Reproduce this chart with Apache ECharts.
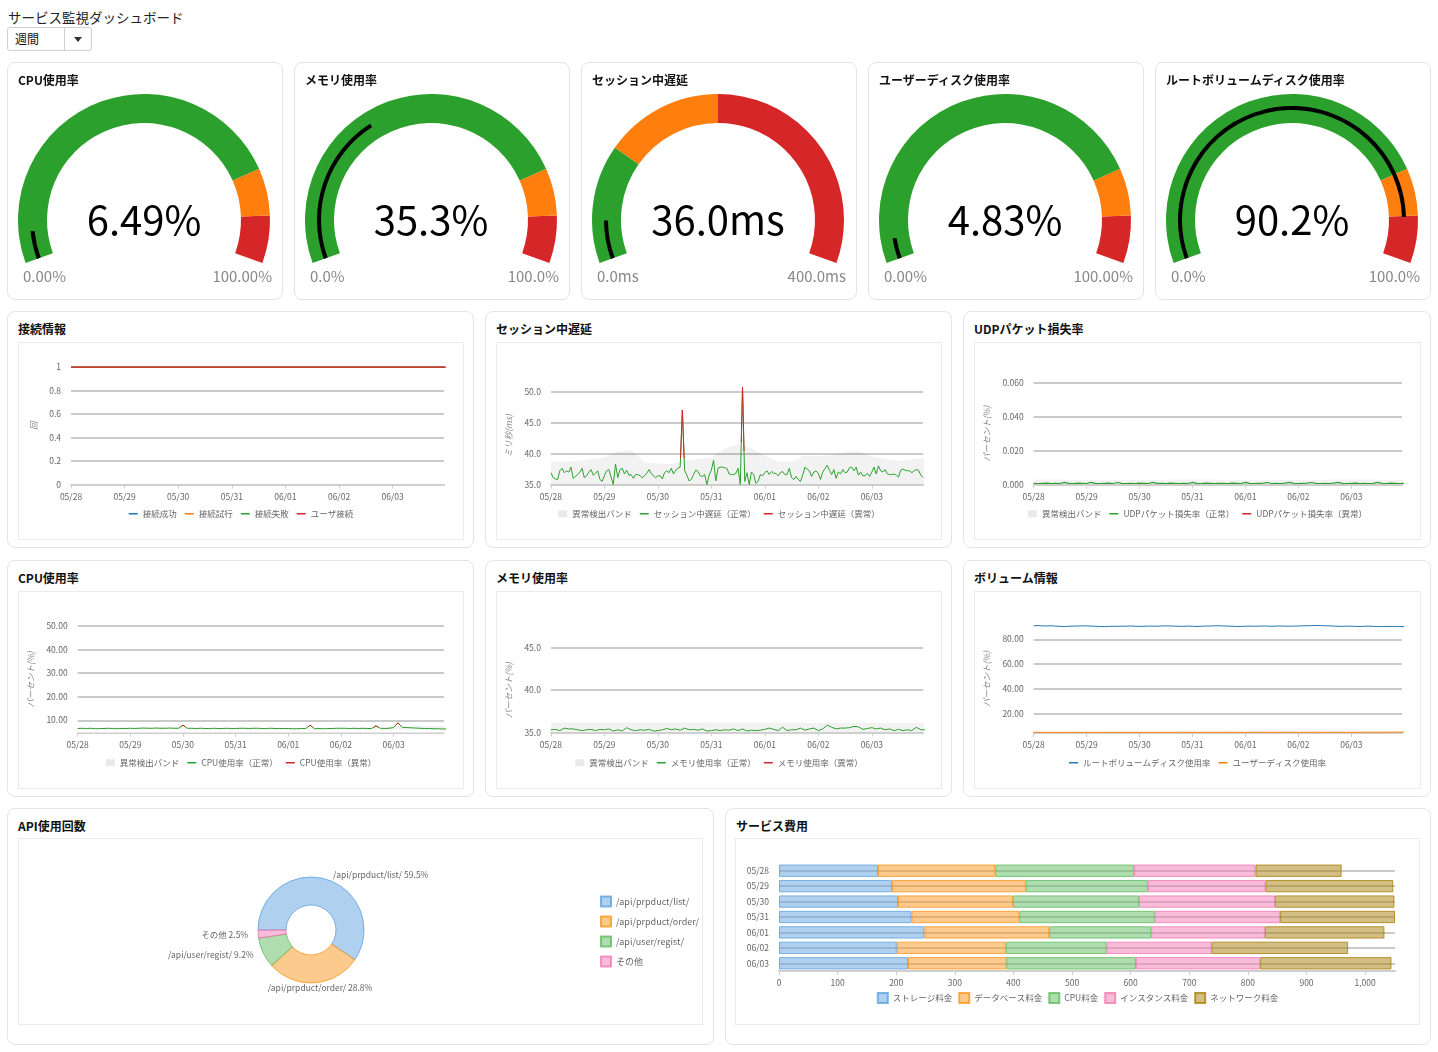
<!DOCTYPE html>
<html lang="ja">
<head>
<meta charset="utf-8">
<title>サービス監視ダッシュボード</title>
<script src="https://cdn.jsdelivr.net/npm/echarts@6.0.0/dist/echarts.min.js"></script>
<style>
  html, body { margin: 0; padding: 0; background: #fff; }
  body { font-family: "Noto Sans CJK JP", "Noto Sans", sans-serif; color: #111; }
  #page { position: relative; width: 1438px; height: 1052px; overflow: hidden; }
  .heading { position: absolute; left: 8px; top: 7px; font-size: 13.5px; line-height: 20px; color: #222; }
  .select { position: absolute; left: 7px; top: 27px; width: 85px; height: 24px; box-sizing: border-box;
            border: 1px solid #cfcfcf; border-radius: 3px; font-size: 12px; line-height: 22px; }
  .select .text { position: absolute; left: 7px; top: 0; }
  .select .sep { position: absolute; left: 56px; top: 0; bottom: 0; border-left: 1px solid #cfcfcf; }
  .select .arrow { position: absolute; left: 66px; top: 9px; width: 0; height: 0;
                   border-left: 4.5px solid transparent; border-right: 4.5px solid transparent; border-top: 5px solid #333; }
  .card { position: absolute; box-sizing: border-box; border: 1px solid #e4e4e4; border-radius: 8px; background: #fff; }
  .card .title { position: absolute; left: 10px; top: 8px; font-size: 12px; font-weight: 700; line-height: 18px; z-index: 2; }
  .fill { position: absolute; left: 0; top: 0; right: 0; bottom: 0; }
  .box { position: absolute; box-sizing: border-box; border: 1px solid #ebebeb; }
</style>
</head>
<body>
<div id="page">
  <div class="heading">サービス監視ダッシュボード</div>
  <div class="select"><span class="text">週間</span><span class="sep"></span><span class="arrow"></span></div>

  <!-- ゲージ -->
  <div class="card" style="left:7px;top:62px;width:276px;height:238px"><div class="fill" id="g0"></div><div class="title">CPU使用率</div></div>
  <div class="card" style="left:294px;top:62px;width:276px;height:238px"><div class="fill" id="g1"></div><div class="title">メモリ使用率</div></div>
  <div class="card" style="left:581px;top:62px;width:276px;height:238px"><div class="fill" id="g2"></div><div class="title">セッション中遅延</div></div>
  <div class="card" style="left:868px;top:62px;width:276px;height:238px"><div class="fill" id="g3"></div><div class="title">ユーザーディスク使用率</div></div>
  <div class="card" style="left:1155px;top:62px;width:276px;height:238px"><div class="fill" id="g4"></div><div class="title">ルートボリュームディスク使用率</div></div>

  <!-- 時系列 -->
  <div class="card" style="left:7px;top:311px;width:467px;height:237px"><div class="title">接続情報</div>
    <div class="box" id="c-conn" style="left:10px;top:30px;width:446px;height:198px"></div></div>
  <div class="card" style="left:485px;top:311px;width:467px;height:237px"><div class="title">セッション中遅延</div>
    <div class="box" id="c-session" style="left:10px;top:30px;width:446px;height:198px"></div></div>
  <div class="card" style="left:963px;top:311px;width:468px;height:237px"><div class="title">UDPパケット損失率</div>
    <div class="box" id="c-udp" style="left:10px;top:30px;width:447px;height:198px"></div></div>

  <div class="card" style="left:7px;top:560px;width:467px;height:237px"><div class="title">CPU使用率</div>
    <div class="box" id="c-cpu" style="left:10px;top:30px;width:446px;height:198px"></div></div>
  <div class="card" style="left:485px;top:560px;width:467px;height:237px"><div class="title">メモリ使用率</div>
    <div class="box" id="c-mem" style="left:10px;top:30px;width:446px;height:198px"></div></div>
  <div class="card" style="left:963px;top:560px;width:468px;height:237px"><div class="title">ボリューム情報</div>
    <div class="box" id="c-vol" style="left:10px;top:30px;width:447px;height:198px"></div></div>

  <div class="card" style="left:7px;top:808px;width:707px;height:237px"><div class="title">API使用回数</div>
    <div class="box" id="c-api" style="left:10px;top:29px;width:685px;height:187px"></div></div>
  <div class="card" style="left:725px;top:808px;width:706px;height:237px"><div class="title">サービス費用</div>
    <div class="box" id="c-cost" style="left:9px;top:29px;width:685px;height:187px"></div></div>
</div>

<script>
const FONT = '"Noto Sans CJK JP", "Noto Sans", sans-serif';
const GREEN = '#2ca02c', ORANGE = '#ff7f0e', RED = '#d62728', BLUE = '#1f77b4';
const GRID = '#b8b8b8';
const BAND = 'rgba(0,0,0,0.075)';
const LINE_ICON = 'path://M0,0H12V2H0Z';

// ---- ゲージの値 ----
const gaugeValues = [6.49, 35.3, 36.0, 4.83, 90.2];
const gaugeMax = [100, 100, 400, 100, 100];
const gaugeDigits = [2, 1, 1, 2, 1];
const gaugeUnits = ['%', '%', 'ms', '%', '%'];
const gaugeSteps = [[0.8, 0.9], [0.8, 0.9], [0.25, 0.5], [0.8, 0.9], [0.8, 0.9]];

// ---- 時系列 ----
const days = ['05/28', '05/29', '05/30', '05/31', '06/01', '06/02', '06/03'];
const LAST_HOUR = 167;

const connSuccess = [1, 1, 1, 1, 1, 1, 1, 1];
const connTry = [1, 1, 1, 1, 1, 1, 1, 1];
const connFail = [1, 1, 1, 1, 1, 1, 1, 1];
const connUser = [1, 1, 1, 1, 1, 1, 1, 1];

// 1時間ごと
const sessionValues = [
  36.9, 36.1, 35.9, 35.8, 37.2, 37.6, 36.9, 37.2, 37.0, 37.8,
  36.0, 36.3, 36.6, 37.0, 37.6, 36.1, 36.4, 37.0, 37.4, 36.5,
  36.8, 37.2, 35.8, 35.5, 36.4, 37.2, 37.4, 36.2, 35.0, 38.3,
  36.1, 37.4, 37.6, 36.7, 37.3, 36.5, 36.6, 36.0, 36.6, 36.6,
  36.4, 36.1, 36.4, 36.8, 37.4, 36.8, 36.4, 36.1, 36.4, 36.4,
  35.9, 36.9, 37.2, 36.9, 37.6, 36.7, 37.3, 37.6, 37.8, 47.0,
  37.3, 36.5, 35.6, 35.8, 36.6, 37.3, 37.1, 36.4, 36.3, 36.6,
  35.0, 36.5, 37.3, 38.9, 35.6, 37.6, 37.8, 37.8, 37.7, 37.6,
  36.7, 36.6, 36.6, 36.8, 37.6, 35.0, 50.7, 35.5, 36.9, 35.0,
  37.0, 36.6, 35.2, 35.5, 36.6, 36.4, 36.9, 37.2, 36.6, 37.1,
  36.8, 36.8, 36.4, 36.9, 37.1, 36.6, 36.6, 37.6, 36.1, 35.8,
  36.3, 35.8, 35.5, 36.5, 37.8, 37.5, 37.2, 36.3, 37.0, 37.2,
  36.8, 35.8, 37.0, 37.6, 38.1, 37.3, 36.6, 37.4, 36.0, 37.0,
  36.7, 37.4, 36.9, 37.0, 37.7, 37.8, 37.2, 37.8, 36.5, 37.0,
  36.4, 36.4, 36.8, 36.3, 37.0, 37.8, 36.7, 38.0, 37.2, 37.0,
  37.4, 36.7, 36.6, 36.6, 36.7, 36.5, 36.2, 37.3, 37.5, 37.3,
  37.2, 37.2, 36.9, 37.2, 37.4, 37.3, 36.5, 36.1
];
// 異常区間 [時, 値]
const sessionAnomalies = [
  [[58.15, 39.2], [59, 47.0], [59.8, 39.2]],
  [[85.43, 41.8], [86, 50.7], [86.68, 40.4]]
];
// 6時間ごと
const sessionBandHigh = [38.7, 38.7, 38.8, 39.1, 39.3, 40.3, 40.6, 38.6, 38.4, 38.3, 38.9, 39.1, 39.4, 40.8, 41.5,
  40.8, 39.6, 38.7, 38.7, 39.7, 39.6, 39.7, 40.2, 40.4, 39.5, 39.1, 38.8, 39.1, 39.3];

// 2時間ごと
const udpValues = [
  0.0007, 0.0006, 0.0007, 0.0008, 0.0006, 0.0007, 0.0006, 0.0013, 0.0007, 0.0006, 0.0008, 0.0007,
  0.0006, 0.0013, 0.0007, 0.0006, 0.0007, 0.0008, 0.0006, 0.0012, 0.0007, 0.0006, 0.0007, 0.0006,
  0.0008, 0.0007, 0.0006, 0.0013, 0.0007, 0.0007, 0.0006, 0.0008, 0.0007, 0.0006, 0.0007, 0.0006,
  0.0013, 0.0007, 0.0006, 0.0008, 0.0007, 0.0006, 0.0007, 0.0007, 0.0006, 0.0008, 0.0007, 0.0006,
  0.0013, 0.0007, 0.0006, 0.0007, 0.0008, 0.0012, 0.0006, 0.0007, 0.0006, 0.0008, 0.0013, 0.0007,
  0.0006, 0.0007, 0.0008, 0.0012, 0.0007, 0.0006, 0.0007, 0.0006, 0.0008, 0.0013, 0.0007, 0.0006,
  0.0007, 0.0008, 0.0006, 0.0007, 0.0006, 0.0007, 0.0013, 0.0007, 0.0006, 0.0008, 0.0007, 0.0006, 0.0007
];
const udpBandHigh = [0.0029, 0.0028, 0.0028, 0.0029, 0.0028, 0.0028, 0.0029, 0.0028];

const cpuValues = [
  6.5, 6.6, 6.5, 6.6, 6.4, 6.5, 6.5, 6.6, 6.5, 6.4, 6.5, 6.5,
  6.6, 6.5, 6.6, 6.7, 6.6, 6.6, 6.7, 6.6, 6.6, 6.7, 6.6, 6.6,
  7.9, 6.6, 6.6, 6.5, 6.6, 6.5, 6.5, 6.6, 6.5, 6.5, 6.6, 6.5,
  6.5, 6.6, 6.6, 6.5, 6.6, 6.6, 6.5, 6.5, 6.6, 6.5, 6.5, 6.5,
  6.5, 6.4, 6.4, 6.5, 6.5, 7.9, 6.4, 6.5, 6.4, 6.5, 6.5, 6.6,
  6.6, 6.6, 6.5, 6.6, 6.5, 6.6, 6.5, 6.5, 7.6, 6.6, 6.5, 6.6,
  6.9, 8.9, 7.0, 6.9, 6.8, 6.7, 6.6, 6.5, 6.5, 6.4, 6.4, 6.3, 6.3
];
const cpuAnomalies = [
  [[47, 7.25], [48, 7.9], [49, 7.25]],
  [[105, 7.2], [106, 7.9], [107, 7.15]],
  [[135, 7.05], [136, 7.6], [137, 7.1]],
  [[145, 7.9], [146, 8.9], [147, 7.95]]
];
const cpuBandLow = [6.1, 6.1, 6.1, 6.2, 6.2, 6.2, 6.2, 6.2, 6.1, 6.1, 6.1, 6.1, 6.1, 6.1, 6.1, 6.1,
  6.0, 6.0, 6.0, 6.0, 6.0, 6.0, 6.0, 6.0, 6.1, 6.0, 6.0, 6.0, 6.0];
const cpuBandHigh = [6.9, 6.9, 6.9, 7.0, 7.0, 7.0, 7.0, 7.0, 6.9, 6.9, 6.9, 6.9, 6.9, 6.9, 6.9, 6.9,
  6.9, 6.9, 6.9, 6.9, 6.9, 6.9, 7.0, 7.0, 7.3, 7.6, 7.6, 7.6, 7.6];

const memValues = [
  35.3, 35.35, 35.2, 35.5, 35.4, 35.4, 35.3, 35.2, 35.3, 35.35, 35.2, 35.35,
  35.3, 35.4, 35.15, 35.3, 35.15, 35.55, 35.3, 35.2, 35.3, 35.25, 35.35, 35.15,
  35.2, 35.3, 35.45, 35.3, 35.4, 35.25, 35.5, 35.3, 35.35, 35.25, 35.4, 35.15,
  35.2, 35.3, 35.2, 35.3, 35.25, 35.4, 35.2, 35.4, 35.15, 35.25, 35.2, 35.25,
  35.35, 35.5, 35.35, 35.2, 35.6, 35.2, 35.3, 35.3, 35.5, 35.25, 35.4, 35.5,
  35.2, 35.4, 35.85, 35.6, 35.4, 35.5, 35.5, 35.55, 35.7, 35.65, 35.35, 35.45,
  35.55, 35.4, 35.5, 35.3, 35.4, 35.2, 35.35, 35.2, 35.3, 35.2, 35.6, 35.3, 35.3
];
// 12時間ごと
const memBandHigh = [36.2, 36.2, 36.2, 36.2, 36.2, 36.2, 36.15, 36.15, 36.15, 36.15, 36.1, 36.1, 36.1, 36.1, 36.1];

const rootDisk = [
  90.9, 91.0, 90.8, 90.7, 90.9, 90.6, 90.4, 90.3, 90.5, 90.6, 90.7, 90.8,
  90.8, 90.6, 90.5, 90.3, 90.2, 90.4, 90.5, 90.4, 90.6, 90.5, 90.7, 90.5,
  90.4, 90.5, 90.6, 90.6, 90.5, 90.7, 90.8, 90.7, 90.6, 90.5, 90.4, 90.6,
  90.5, 90.3, 90.5, 90.6, 90.7, 90.8, 90.9, 90.7, 90.6, 90.5, 90.3, 90.4,
  90.5, 90.6, 90.5, 90.6, 90.7, 90.6, 90.5, 90.6, 90.7, 90.6, 90.5, 90.6,
  90.7, 90.8, 90.9, 91.0, 91.1, 91.0, 90.9, 90.8, 90.6, 90.5, 90.4, 90.6,
  90.5, 90.4, 90.3, 90.5, 90.6, 90.4, 90.3, 90.2, 90.4, 90.3, 90.2, 90.3, 90.2
];
const userDisk = [
  4.90, 4.90, 4.91, 4.91, 4.91, 4.92, 4.92, 4.92, 4.92, 4.93, 4.93, 4.93,
  4.93, 4.93, 4.94, 4.94, 4.94, 4.94, 4.95, 4.95, 4.95, 4.95, 4.95, 4.95,
  4.95, 4.95, 4.96, 4.96, 4.96, 4.96, 4.96, 4.96, 4.96, 4.96, 4.97, 4.97,
  4.97, 4.97, 4.97, 4.97, 4.97, 4.97, 4.97, 4.97, 4.97, 4.97, 4.97, 4.97,
  4.97, 4.98, 4.98, 4.98, 4.98, 4.98, 4.98, 4.98, 4.98, 4.98, 4.98, 4.98,
  4.98, 4.98, 4.98, 4.98, 4.98, 4.99, 4.99, 4.99, 4.99, 4.99, 4.99, 4.99,
  4.99, 4.99, 4.99, 5.00, 5.00, 5.00, 5.00, 5.02, 5.05, 5.08, 5.10, 5.12, 5.13
];

// ---- API ----
const apiNames = ['/api/prpduct/list/', '/api/prpduct/order/', '/api/user/regist/', 'その他'];
const apiShares = [59.5, 28.8, 9.2, 2.5];

// ---- 費用 ----
const costDays = ['05/28', '05/29', '05/30', '05/31', '06/01', '06/02', '06/03'];
const costNames = ['ストレージ料金', 'データベース料金', 'CPU料金', 'インスタンス料金', 'ネットワーク料金'];
const storageCost = [169, 193, 203, 226, 248, 201, 220];
const databaseCost = [200, 228, 196, 184, 213, 186, 168];
const cpuCost = [237, 209, 215, 231, 174, 172, 221];
const instanceCost = [207, 200, 232, 214, 194, 179, 212];
const networkCost = [147, 218, 204, 196, 204, 233, 224];

const SOFT = ['rgba(95,162,221,0.5)', 'rgba(251,150,30,0.5)', 'rgba(96,188,96,0.5)', 'rgba(242,122,180,0.5)', 'rgba(168,128,10,0.5)'];
const SOFT_LINE = ['rgba(95,162,221,0.8)', 'rgba(251,150,30,0.8)', 'rgba(96,188,96,0.8)', 'rgba(242,122,180,0.8)', 'rgba(168,128,10,0.8)'];

// ========== ゲージ ==========
gaugeValues.forEach((value, i) => {
  const chart = echarts.init(document.getElementById('g' + i));
  const fmt = v => v.toFixed(gaugeDigits[i]) + gaugeUnits[i];
  const common = {
    type: 'gauge', startAngle: 200, endAngle: -20, min: 0, max: gaugeMax[i],
    center: [136, 157],
    pointer: { show: false }, axisTick: { show: false }, splitLine: { show: false }, axisLabel: { show: false },
    title: { show: false }, data: [{ value }]
  };
  chart.setOption({
    animation: false,
    textStyle: { fontFamily: FONT },
    series: [
      Object.assign({}, common, {
        radius: 126,
        axisLine: { lineStyle: { width: 29, color: [[gaugeSteps[i][0], GREEN], [gaugeSteps[i][1], ORANGE], [1, RED]] } },
        detail: { offsetCenter: [0, 0], fontSize: 40, fontWeight: 400, color: '#000', fontFamily: FONT, formatter: fmt }
      }),
      Object.assign({}, common, {
        radius: 114,
        axisLine: { show: false },
        progress: { show: true, width: 4, itemStyle: { color: '#000' } },
        detail: { show: false }
      })
    ],
    graphic: [
      { type: 'text', left: 15, top: 206, style: { text: fmt(0), fontSize: 15, fill: '#888', fontFamily: FONT } },
      { type: 'text', right: 10, top: 206, style: { text: fmt(gaugeMax[i]), fontSize: 15, fill: '#888', fontFamily: FONT } }
    ]
  });
});

// ========== 時系列の共通部品 ==========
const dayTicks = days.map((d, i) => i * 24);
const pairs = (values, step) => values.map((v, i) => [i * step, v]);

function hourAxis() {
  return {
    type: 'value', min: 0, max: LAST_HOUR, interval: 24,
    axisLine: { show: true, lineStyle: { color: '#cfcfcf', width: 2 } },
    axisTick: { show: true, length: 4, lineStyle: { color: '#cfcfcf' }, customValues: dayTicks },
    axisLabel: { color: '#666', fontSize: 8.5, margin: 8, customValues: dayTicks,
      formatter: v => days[v / 24] || '' },
    splitLine: { show: false }
  };
}

function valueAxis(o) {
  const axis = {
    type: 'value', min: o.min, max: o.max,
    name: o.name, nameLocation: 'middle', nameGap: o.gap,
    nameTextStyle: { color: '#888', fontSize: 8.5, fontStyle: 'italic' },
    axisLine: { show: false }, axisTick: { show: false },
    axisLabel: { color: '#666', fontSize: 8.5, margin: 10,
      showMinLabel: o.minLabel !== false, showMaxLabel: o.maxLabel !== false },
    splitLine: { show: true, showMinLine: false, showMaxLine: o.maxLine !== false,
      lineStyle: { color: GRID, width: 1.5 } }
  };
  if (o.interval) axis.interval = o.interval;
  if (o.step) { axis.minInterval = o.step; axis.maxInterval = o.step; }
  if (o.digits !== undefined) axis.axisLabel.formatter = v => v.toFixed(o.digits);
  return axis;
}

function line(name, values, step, color, width) {
  return { name, type: 'line', data: pairs(values, step), symbol: 'none', color,
    lineStyle: { color, width: width || 1 }, z: 3 };
}

function anomaly(name, segs) {
  if (!segs.length) return [{ name, type: 'line', data: [], symbol: 'none', color: RED }];
  return segs.map(s => ({ name, type: 'line', data: s, symbol: 'none', color: RED,
    lineStyle: { color: RED, width: 1 }, z: 4 }));
}

// 上限まで灰色で塗り、下限より下は白で塗り戻す
function band(high, step, low) {
  const base = { type: 'line', symbol: 'none', lineStyle: { width: 0 }, silent: true };
  const list = [Object.assign({}, base, { name: '異常検出バンド', data: pairs(high, step), z: 1,
    areaStyle: { color: BAND, origin: 'start' } })];
  if (low) {
    list.push(Object.assign({}, base, { name: 'band-low', data: pairs(low, step), z: 2,
      areaStyle: { color: '#fff', opacity: 1, origin: 'start' } }));
  }
  return list;
}

const bandLegend = { name: '異常検出バンド', icon: 'rect', itemStyle: { color: '#e9e9e9' } };
const legendItems = names => names.map(n => (typeof n === 'string' ? { name: n, icon: LINE_ICON } : n));

function lineChart(id, grid, yAxis, legendData, series) {
  const chart = echarts.init(document.getElementById(id));
  chart.setOption({
    animation: false,
    textStyle: { fontFamily: FONT },
    grid,
    legend: { bottom: 16, left: 'center', itemWidth: 9, itemHeight: 7, itemGap: 8,
      textStyle: { color: '#666', fontSize: 8.5 }, data: legendItems(legendData) },
    xAxis: hourAxis(),
    yAxis,
    series
  });
}

// 接続情報(ユーザ接続が最前面)
const connUserLine = line('ユーザ接続', connUser, 24, RED, 1.6);
connUserLine.z = 5;
lineChart('c-conn', { left: 52, right: 19, top: 24, bottom: 54.5 },
  valueAxis({ min: 0, max: 1, interval: 0.2, name: '回', gap: 33 }),
  ['接続成功', '接続試行', '接続失敗', 'ユーザ接続'],
  [
    line('接続成功', connSuccess, 24, BLUE, 0.8),
    line('接続試行', connTry, 24, ORANGE, 0.8),
    line('接続失敗', connFail, 24, GREEN, 0.8),
    connUserLine
  ]);

// セッション中遅延
lineChart('c-session', { left: 50, right: 18, top: 44, bottom: 54.5 },
  valueAxis({ min: 35, max: 'dataMax', interval: 5, digits: 1, name: 'ミリ秒(ms)', gap: 31,
    maxLabel: false, maxLine: false }),
  [bandLegend, 'セッション中遅延（正常）', 'セッション中遅延（異常）'],
  [].concat(
    band(sessionBandHigh, 6),
    [line('セッション中遅延（正常）', sessionValues, 1, GREEN)],
    anomaly('セッション中遅延（異常）', sessionAnomalies)
  ));

// UDP
lineChart('c-udp', { left: 57, right: 18, top: 40, bottom: 54.5 },
  valueAxis({ min: 0, max: 0.06, interval: 0.02, digits: 3, name: 'パーセント(%)', gap: 38 }),
  [bandLegend, 'UDPパケット損失率（正常）', 'UDPパケット損失率（異常）'],
  [].concat(
    band(udpBandHigh, 24),
    [line('UDPパケット損失率（正常）', udpValues, 2, GREEN, 1.2)],
    anomaly('UDPパケット損失率（異常）', [])
  ));

// CPU
lineChart('c-cpu', { left: 54, right: 19, top: 34, bottom: 55.3 },
  valueAxis({ min: 4.72, max: 50, step: 10, digits: 2, name: 'パーセント(%)', gap: 36, minLabel: false }),
  [bandLegend, 'CPU使用率（正常）', 'CPU使用率（異常）'],
  [].concat(
    band(cpuBandHigh, 6, cpuBandLow),
    [line('CPU使用率（正常）', cpuValues, 2, GREEN)],
    anomaly('CPU使用率（異常）', cpuAnomalies)
  ));

// メモリ
lineChart('c-mem', { left: 50, right: 18, top: 56, bottom: 55.7 },
  valueAxis({ min: 35, max: 45, interval: 5, digits: 1, name: 'パーセント(%)', gap: 32 }),
  [bandLegend, 'メモリ使用率（正常）', 'メモリ使用率（異常）'],
  [].concat(
    band(memBandHigh, 12),
    [line('メモリ使用率（正常）', memValues, 2, GREEN)],
    anomaly('メモリ使用率（異常）', [])
  ));

// ボリューム
lineChart('c-vol', { left: 58, right: 18, top: 33, bottom: 55 },
  valueAxis({ min: 4.4, max: 91.5, step: 20, digits: 2, name: 'パーセント(%)', gap: 39,
    minLabel: false, maxLabel: false, maxLine: false }),
  ['ルートボリュームディスク使用率', 'ユーザーディスク使用率'],
  [
    line('ルートボリュームディスク使用率', rootDisk, 2, BLUE),
    line('ユーザーディスク使用率', userDisk, 2, ORANGE)
  ]);

// ========== API使用回数 ==========
const apiChart = echarts.init(document.getElementById('c-api'));
apiChart.setOption({
  animation: false,
  textStyle: { fontFamily: FONT },
  legend: { orient: 'vertical', left: 576, top: 'middle', icon: 'rect', itemWidth: 10, itemHeight: 10, itemGap: 8,
    textStyle: { color: '#666', fontSize: 9 } },
  series: [{
    type: 'pie', radius: [25, 53], center: [292, 91], startAngle: 180, clockwise: true,
    avoidLabelOverlap: false,
    label: { formatter: '{b} {d}%', color: '#666', fontSize: 8.5 },
    labelLine: { show: false, length: 5, length2: 0 },
    labelLayout: p => (p.dataIndex === 1 ? { align: 'center' } : {}),
    data: apiNames.map((name, i) => ({ name, value: apiShares[i],
      itemStyle: { color: SOFT[i], borderColor: SOFT_LINE[i], borderWidth: 1 } }))
  }]
});

// ========== サービス費用 ==========
const costSeries = [storageCost, databaseCost, cpuCost, instanceCost, networkCost];
const costChart = echarts.init(document.getElementById('c-cost'));
costChart.setOption({
  animation: false,
  textStyle: { fontFamily: FONT },
  grid: { left: 43, right: 24, top: 24, bottom: 53 },
  legend: { bottom: 15, left: 'center', icon: 'rect', itemWidth: 10, itemHeight: 10, itemGap: 6,
    textStyle: { color: '#666', fontSize: 8.5 } },
  yAxis: {
    type: 'category', data: costDays, inverse: true,
    axisLine: { show: false }, axisTick: { show: false },
    axisLabel: { color: '#666', fontSize: 8.5, margin: 10 },
    splitLine: { show: true, alignWithLabel: true, lineStyle: { color: GRID, width: 1.5 } }
  },
  xAxis: {
    type: 'value', min: 0, max: 'dataMax', interval: 100,
    axisLine: { show: true, lineStyle: { color: '#cfcfcf', width: 2 } },
    axisTick: { show: true, length: 4, lineStyle: { color: '#cfcfcf' } },
    axisLabel: { color: '#666', fontSize: 8.5, margin: 8, showMaxLabel: false },
    splitLine: { show: false }
  },
  series: costNames.map((name, i) => ({
    name, type: 'bar', stack: 'cost', data: costSeries[i], barCategoryGap: '20%',
    itemStyle: { color: SOFT[i], borderColor: SOFT_LINE[i], borderWidth: 1 }
  }))
});
</script>
</body>
</html>
